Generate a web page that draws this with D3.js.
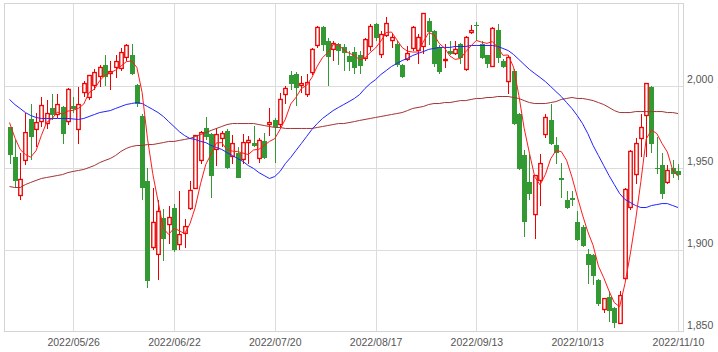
<!DOCTYPE html>
<html lang="ja">
<head>
<meta charset="UTF-8">
<title>日足チャート</title>
<style>
    body { margin: 0; background: #fff; }
    #chart text { font-family: "Liberation Sans", Arial, sans-serif; font-size: 10.5px; fill: #555; }
</style>
</head>
<body>
<div id="chart"></div>
<script src="https://cdn.jsdelivr.net/npm/d3@7"></script>
<script>
// 営業日
var dates = [
    "2022/05/10","2022/05/11","2022/05/12","2022/05/13","2022/05/16","2022/05/17","2022/05/18","2022/05/19","2022/05/20","2022/05/23",
    "2022/05/24","2022/05/25","2022/05/26","2022/05/27","2022/05/30","2022/05/31","2022/06/01","2022/06/02","2022/06/03","2022/06/06",
    "2022/06/07","2022/06/08","2022/06/09","2022/06/10","2022/06/13","2022/06/14","2022/06/15","2022/06/16","2022/06/17","2022/06/20",
    "2022/06/21","2022/06/22","2022/06/23","2022/06/24","2022/06/27","2022/06/28","2022/06/29","2022/06/30","2022/07/01","2022/07/04",
    "2022/07/05","2022/07/06","2022/07/07","2022/07/08","2022/07/11","2022/07/12","2022/07/13","2022/07/14","2022/07/15","2022/07/19",
    "2022/07/20","2022/07/21","2022/07/22","2022/07/25","2022/07/26","2022/07/27","2022/07/28","2022/07/29","2022/08/01","2022/08/02",
    "2022/08/03","2022/08/04","2022/08/05","2022/08/08","2022/08/09","2022/08/10","2022/08/12","2022/08/15","2022/08/16","2022/08/17",
    "2022/08/18","2022/08/19","2022/08/22","2022/08/23","2022/08/24","2022/08/25","2022/08/26","2022/08/29","2022/08/30","2022/08/31",
    "2022/09/01","2022/09/02","2022/09/05","2022/09/06","2022/09/07","2022/09/08","2022/09/09","2022/09/12","2022/09/13","2022/09/14",
    "2022/09/15","2022/09/16","2022/09/20","2022/09/21","2022/09/22","2022/09/26","2022/09/27","2022/09/28","2022/09/29","2022/09/30",
    "2022/10/03","2022/10/04","2022/10/05","2022/10/06","2022/10/07","2022/10/11","2022/10/12","2022/10/13","2022/10/14","2022/10/17",
    "2022/10/18","2022/10/19","2022/10/20","2022/10/21","2022/10/24","2022/10/25","2022/10/26","2022/10/27","2022/10/28","2022/10/31",
    "2022/11/01","2022/11/02","2022/11/04","2022/11/07","2022/11/08","2022/11/09","2022/11/10"
];

// 四本値
var openPrice = [
    1974.4,1956.1,1932.9,1954.3,1979.3,1973.2,1978.0,1976.8,1986.0,1982.3,
    1986.6,1978.0,1987.8,1973.2,1995.7,1992.7,2000.0,2005.5,2012.8,2007.3,
    2011.0,2010.4,2017.1,2018.9,2000.6,1981.7,1941.5,1901.2,1897.0,1919.5,
    1915.2,1925.6,1903.0,1909.8,1925.0,1937.2,1954.3,1973.8,1970.7,1961.0,
    1967.7,1972.5,1956.7,1959.1,1954.9,1965.2,1965.2,1955.5,1965.9,1976.2,
    1978.7,1976.2,1994.5,2006.7,2007.3,2000.0,1994.5,2007.9,2024.4,2035.4,
    2027.4,2022.0,2025.6,2023.2,2017.7,2020.7,2018.3,2016.5,2023.8,2037.2,
    2018.9,2030.5,2027.4,2025.6,2012.8,2015.9,2022.6,2021.3,2023.8,2039.6,
    2033.5,2023.2,2015.2,2021.3,2019.5,2025.6,2009.8,2032.3,2036.6,2025.6,
    2018.3,2011.6,2034.1,2015.2,2002.4,2009.1,1982.9,1957.9,1940.9,1921.3,
    1942.1,1970.1,1978.7,1964.0,1943.9,1929.9,1931.1,1916.5,1914.0,1897.5,
    1896.9,1881.7,1863.4,1871.3,1864.6,1854.9,1882.3,1925.6,1945.7,1967.7,
    1981.7,1998.8,1950.0,1951.8,1940.9,1949.4,1947.6
];
var highPrice = [
    1975.0,1967.0,1959.1,1983.5,1989.0,1983.5,1992.7,1990.9,1995.1,1995.1,
    1987.8,1998.2,1992.7,1998.8,2003.0,2006.7,2009.8,2012.2,2018.3,2015.2,
    2018.3,2022.6,2025.6,2025.6,2001.2,1982.9,1950.0,1937.8,1929.9,1925.0,
    1926.8,1928.0,1935.4,1918.9,1942.0,1970.1,1972.5,1980.5,1971.3,1973.8,
    1972.0,1973.2,1970.1,1962.2,1970.7,1969.5,1975.6,1967.7,1971.3,1986.0,
    1979.9,1995.7,2000.0,2009.1,2008.5,2005.5,2007.3,2022.6,2036.0,2036.0,
    2028.7,2027.4,2026.2,2025.6,2021.3,2023.2,2021.3,2028.7,2037.8,2038.4,
    2033.5,2041.5,2031.7,2027.4,2013.4,2023.8,2036.0,2031.7,2044.5,2040.9,
    2034.1,2024.4,2025.6,2027.4,2027.4,2026.2,2029.9,2036.6,2039.0,2027.4,
    2018.9,2035.4,2037.8,2015.9,2018.3,2009.8,1983.5,1960.4,1958.5,1945.7,
    1958.5,1982.9,1989.0,1968.3,1953.0,1935.9,1935.9,1923.2,1915.2,1900.6,
    1897.5,1882.3,1870.7,1875.0,1865.2,1875.0,1937.2,1960.4,1967.7,1982.9,
    2001.8,1999.4,1968.3,1959.1,1951.8,1954.3,1952.4
];
var lowPrice = [
    1952.4,1937.8,1929.9,1951.8,1954.3,1962.2,1974.4,1973.2,1978.7,1979.9,
    1964.6,1976.2,1983.5,1964.6,1992.7,1990.9,1997.0,1998.8,2000.0,1997.0,
    2004.3,2009.1,2015.2,2006.1,1986.6,1929.9,1876.8,1899.4,1881.7,1892.7,
    1903.6,1898.2,1899.4,1901.2,1923.8,1936.6,1952.4,1966.5,1931.7,1951.2,
    1962.2,1949.0,1952.4,1943.5,1952.4,1952.4,1962.8,1953.0,1955.0,1969.5,
    1953.0,1975.0,1989.0,1997.0,1987.8,1995.7,1992.7,2006.7,2022.6,2021.3,
    1999.4,2015.2,2012.8,2009.1,2009.1,2007.3,2007.3,2015.2,2021.3,2027.4,
    2016.5,2029.3,2022.6,2011.0,2004.3,2015.2,2021.3,2013.4,2019.5,2024.4,
    2011.0,2007.3,2010.4,2018.3,2018.3,2013.4,2009.1,2031.7,2027.4,2016.0,
    2010.4,2011.0,2014.0,2010.4,1995.1,1976.0,1948.2,1907.9,1929.9,1906.7,
    1926.8,1967.7,1964.0,1952.4,1931.7,1924.4,1926.8,1904.9,1901.8,1879.2,
    1878.6,1865.8,1861.0,1855.5,1852.4,1854.3,1881.7,1923.8,1940.2,1956.1,
    1956.1,1959.1,1946.3,1930.5,1940.2,1943.9,1942.1
];
var closePrice = [
    1957.9,1941.5,1942.7,1971.3,1968.3,1977.4,1987.8,1982.9,1982.3,1988.4,
    1970.7,1997.6,1985.4,1988.4,2001.2,2006.1,2007.9,2011.0,2004.9,2008.5,
    2014.6,2020.1,2024.4,2007.3,1989.0,1937.8,1880.5,1916.5,1923.2,1906.1,
    1919.5,1899.4,1909.1,1914.0,1936.0,1969.5,1971.3,1968.9,1945.1,1970.1,
    1970.7,1949.4,1964.6,1943.9,1965.2,1966.5,1963.4,1966.5,1955.5,1977.4,
    1975.0,1991.5,1998.2,2001.2,1998.2,2001.2,2001.8,2022.0,2035.4,2024.4,
    2017.1,2025.6,2021.3,2020.1,2014.6,2010.4,2011.6,2028.0,2036.0,2028.7,
    2031.1,2037.8,2029.3,2012.8,2004.9,2019.5,2035.4,2029.3,2043.9,2032.9,
    2013.4,2008.5,2015.9,2019.5,2022.0,2016.5,2029.3,2033.5,2036.0,2016.5,
    2013.4,2034.8,2016.5,2011.0,2017.1,1976.8,1948.8,1916.5,1934.1,1945.1,
    1952.4,1980.5,1964.6,1959.1,1942.1,1925.6,1929.9,1905.5,1902.4,1890.8,
    1884.1,1866.5,1870.1,1862.2,1854.9,1871.9,1936.6,1959.8,1964.6,1974.4,
    2001.2,1964.6,1948.8,1934.1,1948.2,1946.3,1945.7
];

// 移動平均線 (5日・25日・75日)
var ma5 = [
    1977.4,1968.3,1961.0,1957.9,1956.3,1960.2,1969.5,1977.5,1979.7,1983.8,
    1982.4,1984.4,1984.9,1986.1,1988.7,1995.7,1997.8,2002.9,2006.2,2007.7,
    2009.4,2011.8,2014.5,2015.0,2011.1,1995.7,1967.8,1946.2,1929.4,1912.8,
    1909.2,1912.9,1911.5,1909.6,1915.6,1925.6,1940.0,1951.9,1958.2,1965.0,
    1965.2,1960.8,1960.0,1959.7,1958.8,1957.9,1960.7,1961.1,1963.4,1965.9,
    1967.6,1973.2,1979.5,1988.7,1992.8,1998.1,2000.1,2004.9,2011.7,2017.0,
    2020.1,2024.9,2024.8,2021.7,2019.7,2018.4,2015.6,2016.9,2020.1,2022.9,
    2027.1,2032.3,2032.6,2027.9,2023.2,2020.9,2020.4,2020.4,2026.6,2032.2,
    2031.0,2025.6,2022.9,2018.0,2015.9,2016.5,2020.6,2024.2,2027.5,2026.4,
    2025.7,2026.8,2023.4,2018.4,2018.6,2011.2,1994.0,1974.0,1958.7,1944.3,
    1939.4,1945.7,1955.3,1960.3,1959.7,1954.4,1944.3,1932.4,1921.1,1910.8,
    1902.5,1889.9,1882.8,1874.7,1867.6,1865.1,1879.1,1897.1,1917.6,1941.5,
    1967.3,1972.9,1970.7,1964.6,1959.4,1948.4,1944.6
];
var ma25 = [
    1991.5,1988.4,1986.0,1983.5,1981.7,1980.5,1979.9,1979.9,1979.9,1979.9,
    1979.9,1979.9,1979.6,1979.3,1979.9,1981.1,1982.3,1983.5,1984.1,1984.7,
    1986.0,1987.2,1988.4,1989.0,1989.6,1989.0,1987.2,1985.4,1983.5,1981.1,
    1978.0,1975.0,1971.9,1969.5,1967.7,1967.1,1965.9,1965.2,1963.4,1962.2,
    1961.0,1959.1,1957.3,1955.5,1953.7,1951.2,1949.4,1946.9,1945.1,1943.3,
    1944.5,1947.6,1952.4,1956.1,1960.4,1964.6,1968.9,1973.2,1976.8,1979.9,
    1982.3,1984.7,1986.6,1988.4,1990.2,1992.1,1994.5,1998.2,2001.2,2003.6,
    2006.7,2009.1,2011.6,2013.4,2015.2,2016.5,2018.3,2019.5,2020.7,2022.0,
    2022.6,2023.2,2023.2,2023.2,2023.8,2023.8,2023.8,2024.4,2024.4,2024.4,
    2024.4,2024.4,2023.8,2022.6,2021.3,2018.9,2015.9,2012.8,2009.8,2007.3,
    2004.9,2002.4,1999.4,1996.3,1993.3,1989.6,1986.0,1981.7,1976.8,1970.7,
    1963.4,1957.3,1951.2,1945.1,1939.6,1934.1,1930.5,1928.7,1926.8,1925.6,
    1925.6,1926.8,1927.4,1928.0,1928.0,1926.8,1925.6
];
var ma75 = [
    1938.4,1937.8,1937.8,1939.6,1940.9,1942.1,1943.3,1943.9,1944.5,1945.1,
    1945.7,1946.9,1947.6,1948.2,1948.8,1950.0,1951.2,1953.0,1954.3,1955.5,
    1957.3,1959.8,1961.6,1962.8,1963.4,1963.4,1964.0,1964.0,1964.6,1965.2,
    1965.9,1965.9,1966.5,1967.1,1967.7,1968.9,1970.1,1971.3,1972.6,1973.8,
    1975.0,1976.2,1976.8,1976.8,1976.8,1976.8,1976.8,1976.2,1975.6,1975.0,
    1974.4,1974.4,1973.8,1973.8,1973.8,1973.8,1973.8,1973.8,1974.4,1975.0,
    1975.6,1976.2,1976.8,1976.8,1977.4,1978.0,1978.7,1979.3,1979.9,1980.5,
    1981.1,1981.7,1982.3,1982.9,1983.5,1984.7,1986.0,1986.6,1987.2,1988.4,
    1989.0,1989.0,1989.6,1989.6,1990.2,1990.8,1990.8,1991.5,1992.1,1992.1,
    1992.7,1992.7,1993.3,1993.3,1993.3,1992.7,1992.1,1990.8,1989.6,1989.0,
    1989.0,1989.0,1989.6,1990.2,1991.5,1992.1,1992.7,1992.1,1992.1,1991.5,
    1990.8,1989.6,1988.4,1986.6,1984.7,1983.5,1983.5,1983.5,1984.1,1984.1,
    1984.1,1984.1,1984.1,1984.1,1983.5,1983.5,1982.9
];

// 目盛り
var xTicks = ["2022/05/26","2022/06/22","2022/07/20","2022/08/17","2022/09/13","2022/10/13","2022/11/10"];
var yTicks = [1850, 1900, 1950, 2000];

var width = 718, height = 352;
var plotLeft = 4, plotRight = 683, plotTop = 3.5, plotBottom = 331.5;

var svg = d3.select("#chart").append("svg")
    .attr("width", width)
    .attr("height", height);

var x = d3.scalePoint().domain(dates).range([9.5, 678]);
var y = d3.scaleLinear().domain([1850, 2050]).range([plotBottom, plotTop]);

//グリッド
var grid = svg.append("g").attr("shape-rendering", "crispEdges");
grid.selectAll("line.h").data(yTicks.filter(function (d) { return d > 1850; }))
    .enter().append("line")
    .attr("x1", plotLeft).attr("x2", plotRight)
    .attr("y1", function (d) { return Math.round(y(d)) + 0.5; })
    .attr("y2", function (d) { return Math.round(y(d)) + 0.5; })
    .attr("stroke", "#dcdcdc");
grid.selectAll("line.v").data(xTicks)
    .enter().append("line")
    .attr("x1", function (d) { return Math.round(x(d)) + 0.5; })
    .attr("x2", function (d) { return Math.round(x(d)) + 0.5; })
    .attr("y1", plotTop).attr("y2", plotBottom)
    .attr("stroke", "#dcdcdc");
grid.append("rect")
    .attr("x", plotLeft + 0.5).attr("y", plotTop)
    .attr("width", plotRight - plotLeft).attr("height", plotBottom - plotTop)
    .attr("fill", "none").attr("stroke", "#d4d4d4");

svg.append("clipPath").attr("id", "plot")
    .append("rect").attr("x", plotLeft).attr("y", plotTop)
    .attr("width", plotRight - plotLeft).attr("height", plotBottom - plotTop);

var plot = svg.append("g").attr("clip-path", "url(#plot)");

//ローソク足 (陽線=赤枠、陰線=緑)
var up = "#ee0000", down = "#339933";
function isUp(i) { return closePrice[i] >= openPrice[i]; }

var candles = plot.append("g")
    .selectAll("g").data(dates).enter().append("g");

candles.append("line")
    .attr("shape-rendering", "crispEdges")
    .attr("x1", function (d) { return Math.round(x(d)) + 0.5; })
    .attr("x2", function (d) { return Math.round(x(d)) + 0.5; })
    .attr("y1", function (d, i) { return y(highPrice[i]); })
    .attr("y2", function (d, i) { return y(lowPrice[i]); })
    .attr("stroke", function (d, i) { return isUp(i) ? up : down; });

// 陰線
candles.filter(function (d, i) { return !isUp(i); })
    .append("rect")
    .attr("shape-rendering", "crispEdges")
    .attr("x", function (d) { return Math.round(x(d)) - 2; })
    .attr("y", function (d) { var i = dates.indexOf(d); return y(openPrice[i]); })
    .attr("width", 5)
    .attr("height", function (d) { var i = dates.indexOf(d); return Math.max(1, y(closePrice[i]) - y(openPrice[i])); })
    .attr("fill", down);

// 陽線 (中抜き)
candles.filter(function (d, i) { return isUp(i); })
    .append("rect")
    .attr("x", function (d) { return Math.round(x(d)) - 1.25; })
    .attr("y", function (d) { var i = dates.indexOf(d); return y(closePrice[i]); })
    .attr("width", 3.5)
    .attr("height", function (d) { var i = dates.indexOf(d); return Math.max(0.5, y(openPrice[i]) - y(closePrice[i])); })
    .attr("fill", "#fff")
    .attr("stroke", up)
    .attr("stroke-width", 1.3);

//移動平均線
var line = d3.line()
    .x(function (d, i) { return x(dates[i]); })
    .y(function (d) { return y(d); });

[[ma75, "#a33333"], [ma25, "#2222ff"], [ma5, "#ff1a1a"]].forEach(function (s) {
    plot.append("path")
        .attr("d", line(s[0]))
        .attr("fill", "none")
        .attr("stroke", s[1])
        .attr("stroke-width", 1);
});

//軸
var yAxis = svg.append("g")
    .attr("transform", "translate(" + plotRight + ",0)")
    .call(d3.axisRight(y).tickValues(yTicks).tickFormat(d3.format(",")).tickSize(0).tickPadding(4));
yAxis.select(".domain").remove();
yAxis.selectAll("text").attr("y", -6).attr("fill", null);

var xAxis = svg.append("g")
    .attr("transform", "translate(0," + plotBottom + ")")
    .call(d3.axisBottom(x).tickValues(xTicks).tickSize(0).tickPadding(7));
xAxis.select(".domain").remove();
xAxis.selectAll("text").attr("fill", null);
</script>
</body>
</html>
